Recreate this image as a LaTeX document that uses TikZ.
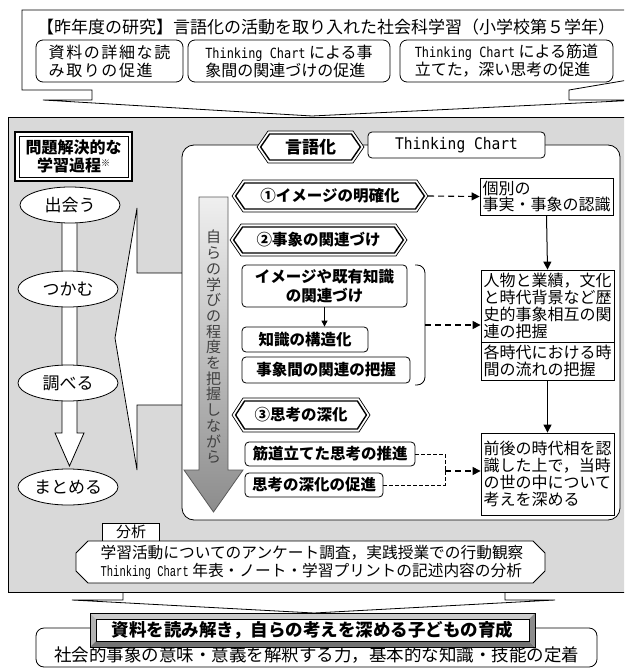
\documentclass[tikz,border=0pt]{standalone}
\usepackage{graphicx}
\usepackage{fontspec}
\setmainfont{Noto Sans CJK JP}
\newfontfamily\monofont{DejaVu Sans Mono}
\newfontfamily\courfont{Liberation Mono}
\usetikzlibrary{arrows.meta,shapes.geometric}
\newcommand\fs[2]{\fontsize{#1}{#2}\selectfont}
\newcommand\hexlbl[7]{% name, xl, xr, yc, half height, font, text
  \draw[line width=0.7pt, fill=white] (#2,#4) -- ({#2+11},{#4-#5}) -- ({#3-11},{#4-#5}) -- (#3,#4) -- ({#3-11},{#4+#5}) -- ({#2+11},{#4+#5}) -- cycle;
  \draw[line width=1.4pt] ({#2+3.6},#4) -- ({#2+12.6},{#4-#5+3}) -- ({#3-12.6},{#4-#5+3}) -- ({#3-3.6},#4) -- ({#3-12.6},{#4+#5-3}) -- ({#2+12.6},{#4+#5-3}) -- cycle;
  \node[inner sep=0pt, font=#6, minimum width={#3-#2}, minimum height={2*#5}] (#1) at ({(#2+#3)/2},#4) {#7};
}
\newcommand\tcsub{\scalebox{0.85}[1]{\monofont\fs{14}{18}Thinking Chart}}
\tikzset{
  ln/.style={line width=0.8pt},
  subbox/.style={draw, ln, rounded corners=7pt, fill=white, inner sep=0pt, align=left, font=\fs{16}{18}},
  rbox/.style={draw, ln, rounded corners=4pt, fill=white, inner sep=0pt, align=center, font=\fs{15.5}{19}\bfseries},
  sqbox/.style={draw, ln, fill=white, inner xsep=2.5pt, inner ysep=0pt, align=left, text width=128pt, font=\fs{16}{16.9}},
  proc/.style={ellipse, draw, ln, fill=white, inner sep=0pt, minimum width=100pt, minimum height=36pt, font=\fs{17}{18}},
  dsh/.style={line width=1.1pt, dash pattern=on 6pt off 4pt},
  sdsh/.style={line width=0.9pt, dash pattern=on 3.5pt off 2.5pt},
  tip/.style={-{Triangle[length=8pt,width=8pt]}},
}
\begin{document}
\begin{tikzpicture}[x=1pt,y=-1pt]
\useasboundingbox (0,0) rectangle (624,671);
\clip (0,0) rectangle (624,671);

% ---- top callout box
\draw[ln, fill=white] (22,10) -- (640,10) -- (640,78) -- (569,90) -- (569,100) -- (640,100)
  -- (312,116) -- (43,100) -- (92,100) -- (92,90) -- (22,90) -- cycle;
\node[font=\fs{17}{18}] (title) at (326,27) {【昨年度の研究】言語化の活動を取り入れた社会科学習（小学校第５学年）};
\node[subbox, minimum width=147pt, minimum height=42pt] (s1) at (109.5,61)
  {\addfontfeature{LetterSpace=10}資料の詳細な読\\\addfontfeature{LetterSpace=10}み取りの促進};
\node[subbox, minimum width=202pt, minimum height=42pt] (s2) at (289,61)
  {\tcsub{} による事\\象間の関連づけの促進};
\node[subbox, minimum width=213pt, minimum height=42pt] (s3) at (506.5,61)
  {\tcsub{} による筋道\\立てた，深い思考の促進};

% ---- bottom pointer of grey box and grey box
\draw[ln, fill=white] (123,590) -- (123,600) -- (72,600) -- (314,613) -- (555,600) -- (505,600) -- (505,590);
\draw[ln, fill=black!15] (8,117) rectangle (640,592);

% ---- left column
\draw[line width=1.6pt, fill=white] (15,132) rectangle (132,181);
\node[draw, line width=0.7pt, fill=white, minimum width=109pt, minimum height=41pt, inner sep=0pt,
  font=\fs{16}{18}\bfseries, align=center] (mondai) at (73.5,156.5)
  {問題解決的な\\学習過程{\fs{9}{9}\raisebox{5pt}{※}}};
\draw[ln, fill=white] (62,215) -- (77,215) -- (77,433) -- (84,433) -- (69.5,466) -- (55,433) -- (62,433) -- cycle;
\node[proc] (e1) at (70,205) {出会う};
\node[proc] (e2) at (68,289) {つかむ};
\node[proc] (e3) at (68,383) {調べる};
\node[proc] (e4) at (68,487) {まとめる};

% ---- left-pointing callout and main white panel
\draw[ln, fill=white] (182,273) -- (137,273) -- (137,208) -- (115,338) -- (137,470) -- (137,405) -- (182,405);
\draw[ln, fill=white, rounded corners=12pt] (182,145) rectangle (620,520);

% header labels
\hexlbl{gengo}{257}{364}{147}{16}{\fs{17}{18}\bfseries}{言語化}
\node[draw, ln, rounded corners=4pt, fill=white, minimum width=177pt, minimum height=26pt, inner sep=0pt] (tc) at (456.5,145)
  {\scalebox{0.91}[1]{\monofont\fs{16}{18}Thinking Chart}};

% gradient arrow with vertical text
\shade[top color=black!6, bottom color=black!45, draw=black!65, line width=0.8pt]
  (199,197) -- (228,197) -- (228,470) -- (243,470) -- (213.5,512) -- (184,470) -- (199,470) -- cycle;
\node[font=\fs{15}{15.7}, text=black!75, align=center, inner sep=0pt] (vt) at (213.5,347)
  {自\\ら\\の\\学\\び\\の\\程\\度\\を\\把\\握\\し\\な\\が\\ら};

% steps
\hexlbl{h1}{232}{428}{196}{16}{\fs{15.5}{17}\bfseries}{①イメージの明確化}
\hexlbl{h2}{230}{407}{240}{16}{\fs{15.5}{17}\bfseries}{②事象の関連づけ}
\hexlbl{h3}{232}{370}{415}{17}{\fs{15.5}{17}\bfseries}{③思考の深化}

\node[rbox, minimum width=165pt, minimum height=42pt] (img) at (324.5,286) {イメージや既有知識\\の関連づけ};
\node[rbox, minimum width=126pt, minimum height=25pt] (kozo) at (305,339.5) {知識の構造化};
\node[rbox, minimum width=168pt, minimum height=26pt] (kanren) at (326,370) {事象間の関連の把握};
\node[rbox, minimum width=170pt, minimum height=24pt] (suji) at (330,454) {筋道立てた思考の推進};
\node[rbox, minimum width=138pt, minimum height=24pt] (shinka) at (314,485) {思考の深化の促進};

% right boxes
\node[sqbox, minimum height=37pt] (kobetsu) at (546.5,196.5) {個別の\\事実・事象の認識};
\node[sqbox, minimum height=72pt] (jinbutsu) at (547.5,306) {人物と業績，文化\\と時代背景など歴\\史的事象相互の関\\連の把握};
\node[sqbox, minimum height=38pt] (jidai) at (547.5,361) {各時代における時\\間の流れの把握};
\node[sqbox, minimum height=82pt] (zengo) at (547.5,474) {前後の時代相を認\\識した上で，当時\\の世の中について\\考えを深める};

% connectors
\draw[dsh, tip] (h1.east) -- (kobetsu.west);
\draw[line width=1pt, tip] (kobetsu.south) -- (jinbutsu.north);
\draw[line width=1pt, tip] (jidai.south) -- (zengo.north);
\draw[line width=1pt, -{Triangle[length=6pt,width=6pt]}] (img.south) -- (img.south |- kozo.north);
\draw[ln, rounded corners=8pt] (415,265) -- (425,265) -- (425,385) -- (415,385);
\coordinate (brk) at (425,325);
\draw[dsh, tip] (brk) -- (brk -| jinbutsu.west);
\coordinate (jm) at (445,471);
\draw[sdsh] (suji.east) -| (jm);
\draw[sdsh] (shinka.east) -| (jm);
\draw[dsh, tip] (jm) -- (jm -| zengo.west);

% ---- analysis
\node[draw, ln, fill=white, minimum width=57pt, minimum height=18pt, inner sep=0pt, font=\fs{15}{16}] (bunseki) at (131,532) {分析};
\draw[ln, fill=white] (88,541) -- (533,541) -- (545,553) -- (545,571) -- (533,583) -- (88,583) -- (76,571) -- (76,553) -- cycle;
\node[font=\fs{15.7}{18}, align=left, inner sep=0pt] (antext) at (312,562)
  {学習活動についてのアンケート調査，実践授業での行動観察\\\scalebox{0.7}[1]{\courfont\fs{15}{18}Thinking Chart} 年表・ノート・学習プリントの記述内容の分析};

% ---- result
\draw[ln, fill=white, rounded corners=8pt] (36,628) rectangle (597,667);
\node[font=\fs{17.5}{18}, inner sep=0pt] (cap) at (316.5,655) {社会的事象の意味・意義を解釈する力，基本的な知識・技能の定着};
\fill[black!20] (90,613) -- (535,613) -- (529,619) -- (96,619) -- cycle;
\fill[black!30] (90,613) -- (96,619) -- (96,641) -- (90,647) -- cycle;
\fill[black!55] (90,647) -- (96,641) -- (529,641) -- (535,647) -- cycle;
\fill[black!45] (535,613) -- (529,619) -- (529,641) -- (535,647) -- cycle;
\draw[ln] (90,613) rectangle (535,647);
\node[draw, ln, fill=white, minimum width=433pt, minimum height=22pt, inner sep=0pt, font=\fs{17.5}{18}\bfseries] (res) at (312.5,630)
  {資料を読み解き，自らの考えを深める子どもの育成};
\end{tikzpicture}
\end{document}
